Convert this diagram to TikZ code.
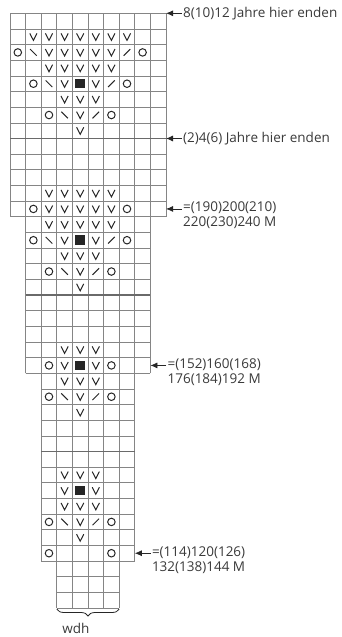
\documentclass[tikz,border=0pt]{standalone}
\usepackage{fontspec}
\setmainfont{Open Sans}
\usepackage{xcolor}
\usepackage{tikz}
\usetikzlibrary{calc}
\usetikzlibrary{positioning}
\usetikzlibrary{arrows.meta}
\usetikzlibrary{decorations.pathreplacing}

\definecolor{gridgray}{HTML}{858585}
\definecolor{sepgray}{HTML}{6A6A6A}
\definecolor{txtgray}{HTML}{3A3A3A}

\begin{document}
\begin{tikzpicture}[x=15.6pt,y=15.65pt]
  \tikzset{every node/.style={font=\fontsize{13.5}{15}\selectfont,text=txtgray,inner sep=0pt}};
  \tikzset{vst/.style={minimum size=10pt,path picture={\draw[black!85,line width=1pt] (path picture bounding box.center) ++(-3.6pt,3.4pt) -- ++(3.6pt,-7pt) -- ++(3.6pt,7pt);}}};
  \tikzset{ringst/.style={shape=circle,draw=black!85,line width=1pt,minimum size=7.5pt}};
  \tikzset{blkst/.style={shape=rectangle,fill=black!85,minimum size=9.5pt}};
  \tikzset{bslst/.style={minimum size=10pt,path picture={\draw[black!85,line width=1pt] (path picture bounding box.center) ++(-3.3pt,3.3pt) -- ++(6.6pt,-6.6pt);}}};
  \tikzset{fslst/.style={minimum size=10pt,path picture={\draw[black!85,line width=1pt] (path picture bounding box.center) ++(-3.3pt,-3.3pt) -- ++(6.6pt,6.6pt);}}};
  \tikzset{lbl/.style={align=left,inner sep=1pt}};
  \tikzset{arr/.style={draw=black!85,line width=0.8pt,arrows={-Latex[length=7pt,width=6pt]}}};
  \useasboundingbox (-10pt,13.3pt) rectangle (331pt,-623.7pt);
  \path[draw=gridgray,line width=0.7pt,step=1] (0,-13) grid (10,0);
  \path[draw=gridgray,line width=0.7pt,step=1] (1,-23) grid (9,-13);
  \path[draw=gridgray,line width=0.7pt,step=1] (2,-35) grid (8,-23);
  \path[draw=gridgray,line width=0.7pt,step=1] (3,-38) grid (7,-35);
  \path[draw=sepgray,line width=1.8pt] (0,-8) -- (10,-8);
  \path[draw=sepgray,line width=1.8pt] (1,-18) -- (9,-18);
  \path[draw=sepgray,line width=1.8pt] (2,-28) -- (8,-28);
  \foreach \r/\a/\b in {1/1/7,2/2/6,3/2/6,4/3/3,4/5/5,5/3/5,6/4/4,7/4/4,
                        11/2/6,12/2/6,13/2/6,14/3/3,14/5/5,15/3/5,16/4/4,17/4/4,
                        21/3/5,22/3/3,22/5/5,23/3/5,24/4/4,25/4/4,
                        29/3/5,30/3/3,30/5/5,31/3/5,32/4/4,33/4/4}
    \foreach \c in {\a,...,\b}
      \node[vst] (v-\r-\c) at (\c+0.5,-\r-0.5) {};
  \foreach \r/\c/\s in {2/0/ringst,2/1/bslst,2/7/fslst,2/8/ringst,
                        4/1/ringst,4/2/bslst,4/4/blkst,4/6/fslst,4/7/ringst,
                        6/2/ringst,6/3/bslst,6/5/fslst,6/6/ringst,
                        12/1/ringst,12/7/ringst,
                        14/1/ringst,14/2/bslst,14/4/blkst,14/6/fslst,14/7/ringst,
                        16/2/ringst,16/3/bslst,16/5/fslst,16/6/ringst,
                        22/2/ringst,22/4/blkst,22/6/ringst,
                        24/2/ringst,24/3/bslst,24/5/fslst,24/6/ringst,
                        30/4/blkst,
                        32/2/ringst,32/3/bslst,32/5/fslst,32/6/ringst,
                        34/2/ringst,34/6/ringst}
    \node[\s] (s-\r-\c) at (\c+0.5,-\r-0.5) {};
  \coordinate (e1) at (10,0);
  \coordinate (e2) at (10,-8);
  \coordinate (e3) at (10,-12.5);
  \coordinate (e4) at (9,-22.5);
  \coordinate (e5) at (8,-34.5);
  \node[lbl, right=16pt of e1] (t1) {8(10)12 Jahre hier enden};
  \node[lbl, right=16pt of e2] (t2) {(2)4(6) Jahre hier enden};
  \node[lbl, right=16pt of e3, anchor=north west, yshift=8pt] (t3) {=(190)200(210)\\220(230)240 M};
  \node[lbl, right=16pt of e4, anchor=north west, yshift=8pt] (t4) {=(152)160(168)\\176(184)192 M};
  \node[lbl, right=16pt of e5, anchor=north west, yshift=8pt] (t5) {=(114)120(126)\\132(138)144 M};
  \path[arr] (t1.west) -- (e1);
  \path[arr] (t2.west) -- (e2);
  \path[arr] (t3.west |- e3) -- (e3);
  \path[arr] (t4.west |- e4) -- (e4);
  \path[arr] (t5.west |- e5) -- (e5);
  \path[draw=black!85,line width=0.8pt,decorate,decoration={brace,mirror,amplitude=7pt,raise=1pt}] (3,-38) -- (7,-38) coordinate[pos=0.5] (btip);
  \node[below=15pt of btip, xshift=-12pt] (wdh) {wdh};
\end{tikzpicture}
\end{document}
